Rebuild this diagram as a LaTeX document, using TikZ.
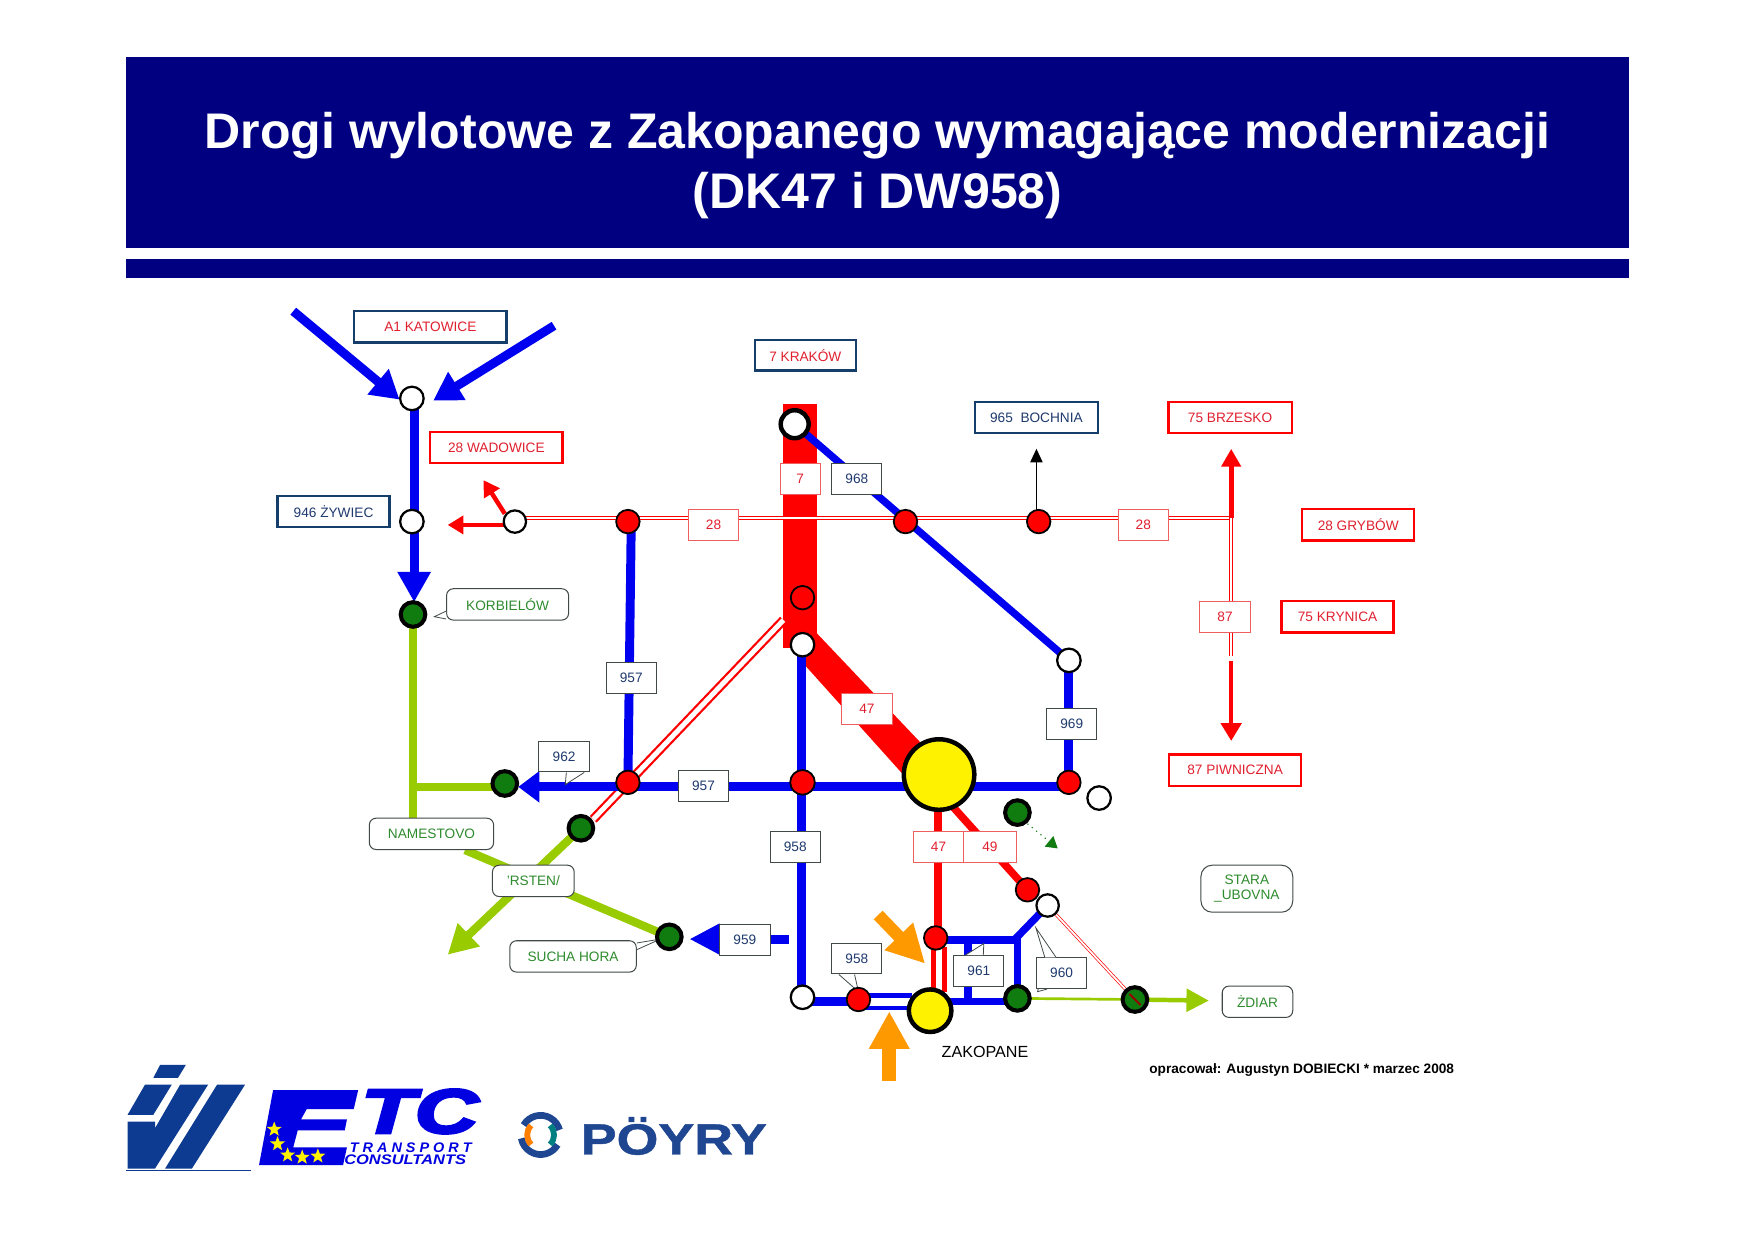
\documentclass[tikz,border=0pt]{standalone}
\usepackage{fontspec}
\setmainfont{Liberation Sans}
\newfontfamily\heavyfont[FakeBold=4]{Liberation Sans Bold Italic}
\newfontfamily\boldit{Liberation Sans Bold Italic}
\newfontfamily\wideb[FakeBold=1]{Liberation Sans Bold}
\usetikzlibrary{arrows.meta,shapes.geometric,backgrounds}
\pgfdeclarelayer{roads}
\pgfsetlayers{roads,main}
\definecolor{hdr}{HTML}{000080}
\definecolor{rblue}{HTML}{0000F0}
\definecolor{rred}{HTML}{FF0000}
\definecolor{rlime}{HTML}{99CC00}
\definecolor{rgreen}{HTML}{107C10}
\definecolor{tred}{HTML}{E0202F}
\definecolor{tgreen}{HTML}{2E8B2E}
\definecolor{tnavy}{HTML}{1F3A6E}
\definecolor{bnavy}{HTML}{153E6B}
\definecolor{lred}{HTML}{EE6060}
\definecolor{gbord}{HTML}{404848}
\definecolor{rorange}{HTML}{FF9900}
\definecolor{plogo}{HTML}{1F4690}
\definecolor{elogo}{HTML}{0D3B91}
\definecolor{etcblue}{HTML}{0000E0}
\tikzset{
 lbl/.style={font=\fontsize{6.1}{6.6}\selectfont, inner sep=0pt, align=center, fill=white},
 bigred/.style={lbl, draw=rred, line width=1pt, text=tred, minimum height=14pt},
 bignavy/.style={lbl, draw=bnavy, line width=1pt, text=tred, minimum height=14pt},
 bignavyt/.style={bignavy, text=tnavy},
 numr/.style={lbl, draw=lred, line width=.45pt, text=tred, minimum width=22.5pt, minimum height=13.7pt},
 numb/.style={lbl, draw=gbord, line width=.45pt, text=tnavy, minimum width=22.5pt, minimum height=13.7pt},
 cal/.style={lbl, draw=gbord, line width=.45pt, text=tgreen, rounded corners=3pt, minimum height=14pt},
 tailp/.style={draw=gbord, fill=white, line width=.35pt},
 white stop/.style={circle, draw=black, fill=white, line width=1pt, minimum size=10.5pt, inner sep=0pt},
 red stop/.style={circle, draw=black, fill=rred, line width=.8pt, minimum size=10.5pt, inner sep=0pt},
 green stop/.style={circle, draw=black, fill=rgreen, line width=1.8pt, minimum size=11pt, inner sep=0pt},
 yellow stop/.style={circle, draw=black, fill=yellow, line width=2pt, inner sep=0pt},
 blue road/.style={draw=rblue, line width=4pt},
 lime road/.style={draw=rlime, line width=3.7pt},
 red road/.style={draw=rred, line width=3.3pt},
 thin double/.style={draw=rred, line width=.5pt, double=white, double distance=.9pt},
}
\begin{document}
\begin{tikzpicture}[x=0.5pt,y=-0.5pt]
\path[use as bounding box] (0,0) rectangle (1568,1107.9);
\begin{pgfonlayer}{roads}
 \fill[white] (0,0) rectangle (1568,1107.9);
\end{pgfonlayer}
% header
\fill[hdr] (113,51) rectangle (1455,222);
\fill[hdr] (113,231) rectangle (1455,248);
\node[text=white, font=\fontsize{22.35}{27}\bfseries\selectfont, inner sep=0pt] (t1) at (784,121) {Drogi wylotowe z Zakopanego wymagające modernizacji};
\node[text=white, font=\fontsize{22.35}{27}\bfseries\selectfont, inner sep=0pt] (t2) at (784,175) {(DK47 i DW958)};
\begin{scope}[yshift=-0.5pt]
% boxes
\node[bignavy, minimum width=68pt] (katowice) at (384.5,291) {A1 KATOWICE};
\node[bignavy, minimum width=45pt, minimum height=13.5pt] (krakow) at (719.5,316.5) {7 KRAKÓW};
\node[bignavyt, minimum width=55pt] (bochnia) at (926,372) {965\ \ BOCHNIA};
\node[bigred, minimum width=55pt] (brzesko) at (1099,372) {75 BRZESKO};
\node[bigred, minimum width=59pt] (wadowice) at (443.5,399) {28 WADOWICE};
\node[bignavyt, minimum width=50pt] (zywiec) at (298,456) {946 ŻYWIEC};
\node[bigred, minimum width=50pt] (grybow) at (1213.5,468) {28 GRYBÓW};
\node[bigred, minimum width=50pt] (krynica) at (1195,550) {75 KRYNICA};
\node[bigred, minimum width=59pt] (piwniczna) at (1103.5,687) {87 PIWNICZNA};
% number labels
\node[numr, minimum width=18pt] (l7) at (715,427) {7};
\node[numb] (l968) at (765.5,427) {968};
\node[numr] (l28a) at (637.5,468) {28};
\node[numr] (l28b) at (1021.5,468) {28};
\node[numr] (l87) at (1094.5,550.5) {87};
\node[numb] (l957a) at (564,605) {957};
\node[numr] (l47a) at (774.5,632.5) {47};
\node[numb] (l969) at (957.5,646) {969};
\node[numb] (l962) at (504,675) {962};
\node[numb] (l957b) at (628.5,701.5) {957};
\node[numb] (l958a) at (710.5,756) {958};
\node[numr] (l47b) at (838.5,756) {47};
\node[numr, minimum width=23.5pt] (l49) at (884.5,756) {49};
\node[numb] (l959) at (665.5,839) {959};
\node[numb] (l958b) at (765.5,855.5) {958};
\node[numb] (l961) at (874.5,866.5) {961};
\node[numb] (l960) at (948.5,868.5) {960};
% callouts
\node[cal, minimum width=54.5pt] (korb) at (453.5,539) {KORBIELÓW};
\node[cal, minimum width=55.5pt] (namest) at (385.5,744) {NAMESTOVO};
\node[cal, minimum width=36.5pt] (trsten) at (476.5,786) {'RSTEN/};
\node[cal, minimum width=56.5pt] (sucha) at (512,853.5) {SUCHA HORA};
\node[cal, minimum width=41pt, minimum height=21pt, rounded corners=5pt] (stara) at (1114,793) {STARA\\\_UBOVNA};
\node[cal, minimum width=31.5pt] (zdiar) at (1123.5,894) {ŻDIAR};
% callout tails
\path[tailp] ([yshift=-3pt]korb.west) -- (388,550) -- ([yshift=-6.5pt]korb.west);
\path[tailp] ([xshift=1pt]l962.south) -- (505,700) -- ([xshift=9pt]l962.south);
\path[tailp] ([yshift=6pt]sucha.east) -- (590,838) -- ([yshift=3pt]sucha.east);
\path[tailp] ([xshift=-8pt]l958b.south) -- (767,885) -- ([xshift=-1pt]l958b.south);
\path[tailp] ([xshift=-6pt]l961.north) -- (879,842) -- ([xshift=2pt]l961.north);
\path[tailp] ([xshift=-7.5pt]l960.north) -- (925.5,828) -- ([xshift=-2.5pt]l960.north);
\path[tailp] ([xshift=1pt]l960.south west) -- (927,885) -- ([xshift=5pt]l960.south west);
% stops
\node[white stop] (a) at (368,355) {};
\node[white stop] (b) at (368,465) {};
\node[white stop, minimum size=10pt] (wad) at (460,465) {};
\node[red stop] (r1) at (561,465) {};
\node[red stop] (r2) at (809,465) {};
\node[red stop] (r3) at (928,465) {};
\node[circle, draw=black, fill=white, line width=2pt, minimum size=12.5pt, inner sep=0pt] (k) at (710,378) {};
\node[red stop] (r4) at (717,533) {};
\node[white stop] (w5) at (717,575) {};
\node[green stop] (korbn) at (369,548) {};
\node[white stop] (w6) at (955,589) {};
\node[red stop] (r7) at (955,698) {};
\node[white stop] (w8) at (982,712) {};
\node[red stop] (r9) at (561,698) {};
\node[red stop, minimum size=11pt] (r10) at (717,698) {};
\node[green stop] (g1) at (451,699) {};
\node[green stop] (g2) at (519,739) {};
\node[green stop] (g3) at (598,836) {};
\node[green stop] (g4) at (909,725) {};
\node[yellow stop, minimum size=31.5pt] (zc) at (839,691) {};
\node[red stop] (r11) at (918,794) {};
\node[white stop, minimum size=10pt] (w12) at (936,808) {};
\node[red stop] (r13) at (836,837) {};
\node[yellow stop, minimum size=19pt] (zs) at (831,902) {};
\node[red stop] (r14) at (767,892) {};
\node[white stop] (w15) at (717,890) {};
\node[green stop] (g5) at (909,891) {};
\node[green stop] (g6) at (1014,892) {};
\draw[rred!60!black, line width=.9pt] (g6.center) ++(-5,-5) -- ++(10,10);
% free ends
\coordinate (a1s) at (262,277);
\coordinate (a1t) at (357,356);
\coordinate (a2s) at (495,290);
\coordinate (a2t) at (387,357);
\coordinate (ktip) at (370,537);
\coordinate (wl) at (400,468);
\coordinate (wls) at (451,468);
\coordinate (wu) at (432,428);
\coordinate (wus) at (451,458);
\coordinate (bt) at (926,400);
\coordinate (cross) at (1100,462);
\coordinate (ctop) at (1100,400);
\coordinate (vend) at (1100,585);
\coordinate (vs) at (1100,590);
\coordinate (vb) at (1100,661);
\coordinate (gtip) at (400,852);
\coordinate (btip) at (463,702);
\coordinate (b959s) at (705,838);
\coordinate (b959t) at (616,838);
\coordinate (ltip) at (1080,893);
\coordinate (dt) at (945,757);
\coordinate (dstart) at (918,735);
\coordinate (o1s) at (784.6,816.5);
\coordinate (o1t) at (826.6,860);
\coordinate (o2s) at (794.5,965);
\coordinate (o2t) at (794.5,902.6);
\begin{pgfonlayer}{roads}
 % trunk
 \fill[rred] (700,360) rectangle (730,578);
 \fill[rred] (730,565) -- (822,662) -- (806,690) -- (718,592) -- (718,570) -- cycle;
 % double red
 \draw[draw=rred, line width=1pt, double=white, double distance=2.2pt] (700,553) -- (530,731);
 \draw[thin double] (wad.center) ++(0,-3) -- (cross);
 \draw[thin double] (cross) -- (vend);
 \draw[draw=rred, line width=.3pt, double=white, double distance=.8pt] (w12.center) -- (g6.center);
 % blue
 \draw[blue road, -{Triangle[length=12.5pt,width=14pt]}] (a1s) -- (a1t);
 \draw[blue road, -{Triangle[length=12.5pt,width=14pt]}] (a2s) -- (a2t);
 \draw[blue road, -{Triangle[length=13.5pt,width=14pt]}] ([xshift=1pt]a.center) -- (ktip);
 \draw[blue road] ([xshift=1.5pt]r1.center) -- (r9.center);
 \draw[blue road, line width=3.3pt] (k.center) -- (w6.center);
 \draw[blue road] (w6.center) -- (r7.center);
 \draw[blue road] ([xshift=-.5pt]w5.center) -- ([xshift=-.5pt]w15.center);
 \draw[blue road, -{Triangle[length=9.5pt,width=13.5pt]}] (r7.center) ++(0,4) -- (btip);
 \draw[blue road, -{Triangle[length=13.5pt,width=13pt]}] (b959s) -- (b959t);
 \draw[blue road, line width=3.3pt] (r13.center) ++(0,2) -| (g5.center);
 \draw[blue road, line width=3.3pt] (906,839) -- (w12.center);
 \draw[blue road, line width=3.3pt] (865,839) -- (865,892);
 \draw[blue road] (w15.center) ++(0,4) -- (775,894);
 \draw[blue road, line width=2pt] (770,888.5) -- (815,888.5);
 \draw[blue road, line width=2pt] (770,899.5) -- (815,899.5);
 \draw[blue road, line width=3.3pt] (zs.center) ++(0,-8) -- (909,894);
 % lime
 \draw[lime road] (korbn.center) -- (namest.north -| korbn.center);
 \draw[lime road] (370,702) -- (451,702);
 \draw[lime road] (namest.south) ++(30,0) -- (g3.center);
 \draw[lime road, -{Triangle[length=13pt,width=13.5pt]}] (g2.center) -- (gtip);
 \draw[draw=rlime, line width=1.2pt] (g5.center) -- (g6.center);
 \draw[draw=rlime, line width=2pt, -{Triangle[length=10pt,width=10pt]}] (g6.center) -- (ltip);
 % red
 \draw[red road] (838,691) -- (838,837);
 \draw[red road, line width=3.4pt] ([yshift=-7.5pt]zc.center) -- (r11.center);
 \fill[rred] (831.5,845) rectangle (836.5,885);
 \fill[rred] (841.5,845) rectangle (846.5,885);
 \draw[red road, line width=2pt, -{Triangle[length=7pt,width=8pt]}] (wls) -- (wl);
 \draw[red road, line width=2pt, -{Triangle[length=7pt,width=8pt]}] (wus) -- (wu);
 \draw[red road, line width=2.2pt, -{Triangle[length=8pt,width=8.5pt]}] (cross) -- (ctop);
 \draw[red road, line width=2pt, -{Triangle[length=8pt,width=9pt]}] (vs) -- (vb);
 % black and dotted green
 \draw[black, line width=.45pt, -{Triangle[length=6pt,width=5.5pt]}] (r3.center) ++(-2,0) -- (bt);
 \draw[rgreen, line width=.5pt, dotted, -{Triangle[length=5pt,width=6pt]}] (dstart) -- (dt);
 % orange
 \draw[rorange, line width=5.5pt, -{Triangle[length=17pt,width=16.5pt]}] (o1s) -- (o1t);
 \draw[rorange, line width=6.2pt, -{Triangle[length=16.7pt,width=17pt]}] (o2s) -- (o2t);
\end{pgfonlayer}
% place text
\node[font=\fontsize{7.2}{8.6}\selectfont, inner sep=0pt] (zak) at (880,939) {ZAKOPANE};
\node[font=\fontsize{6.1}{7.3}\bfseries\selectfont, inner sep=0pt] (autor) at (1163,955) {opracował: Augustyn DOBIECKI * marzec 2008};
\end{scope}
% left logo
\fill[elogo] (143,951.5) -- (166,951.5) -- (159,963) -- (137,963) -- cycle;
\fill[elogo] (129.6,969) -- (153.5,969) -- (137,996) -- (114,996) -- cycle;
\fill[elogo] (114,1002) -- (138.5,1002) -- (138.5,1008) -- (161,969) -- (186,969) -- (138.5,1044) -- (114,1044) -- cycle;
\fill[elogo] (194,969) -- (219,969) -- (171.5,1044) -- (147.5,1044) -- cycle;
\draw[elogo, line width=.4pt] (113,1046) -- (224,1046);
% ETC logo
\fill[etcblue] (244,974) -- (320,974) -- (316,991) -- (274,991) -- (269,1000) -- (310,1000) -- (308,1010) -- (266,1010) -- (262,1025) -- (310,1025) -- (306.5,1041) -- (231.4,1041) -- cycle;
\foreach \n/\sx/\sy in {s1/245/1009,s2/248/1022,s3/257/1032,s4/270/1034,s5/284/1033}
  \node[star, star points=5, star point ratio=2.4, fill=yellow, inner sep=0pt, minimum size=7pt] (\n) at (\sx,\sy) {};
\node[text=etcblue, font=\heavyfont\fontsize{28}{30}\selectfont, inner sep=0pt, xscale=1.4] (etc) at (375,993) {TC};
\node[text=etcblue, font=\boldit\fontsize{6.2}{7}\selectfont, inner sep=0pt, xscale=1.04] (tr) at (367,1025.5) {T R A N S P O R T};
\node[text=etcblue, font=\boldit\fontsize{6.2}{7}\selectfont, inner sep=0pt, xscale=1.185] (co) at (362,1036.5) {CONSULTANTS};
% Poyry logo
\draw[plogo, line width=3pt] (483,1014) ++(30:17.5) arc (30:170:17.5);
\draw[plogo, line width=3pt] (483,1014) ++(210:17.5) arc (210:345:17.5);
\draw[orange, line width=2.6pt] (483,1014) ++(135:12) arc (135:225:12);
\draw[teal, line width=2.6pt] (483,1014) ++(-45:12) arc (-45:45:12);
\node[text=plogo, font=\wideb\fontsize{19.5}{22}\selectfont, inner sep=0pt, xscale=1.23] (poyry) at (602,1015) {PÖYRY};
\end{tikzpicture}
\end{document}
